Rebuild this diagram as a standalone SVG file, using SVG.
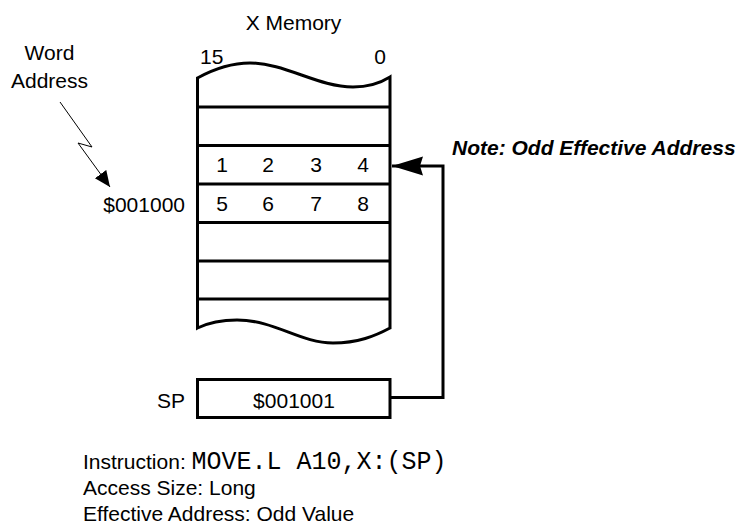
<svg xmlns="http://www.w3.org/2000/svg" width="739" height="525" viewBox="0 0 739 525">
<style>
text{font-family:"Liberation Sans",Arial,Helvetica,sans-serif;font-size:21px;fill:#000}
.mid{text-anchor:middle}
.end{text-anchor:end}
.mono{font-family:"Liberation Mono","Courier New",monospace;font-size:25px}
.note{font-weight:bold;font-style:italic}
.thick{fill:none;stroke:#000;stroke-width:3}
.thin{fill:none;stroke:#000;stroke-width:1}
</style>
<defs>
<marker id="bigArrow" markerUnits="userSpaceOnUse" markerWidth="34" markerHeight="22" refX="31" refY="9.5" orient="auto">
<path d="M0,0 L31,9.5 L0,19 L3,9.5 Z" fill="#000"/>
</marker>
<marker id="smallArrow" markerUnits="userSpaceOnUse" markerWidth="18" markerHeight="16" refX="16" refY="7" orient="auto">
<path d="M0,0 L16,7 L0,14 Z" fill="#000"/>
</marker>
</defs>
<rect width="739" height="525" fill="#fff"/>
<g id="x-memory">
<text class="mid" x="293.5" y="30">X Memory</text>
<text x="200" y="64">15</text>
<text class="mid" x="380" y="64">0</text>
<path class="thick" d="M197.5,78 C212,70 232,63 250,63 C285,63 318,87 353,87 C370,87 382,82 390,77 L390,328 C375,336 358,343 333,343 C300,343 275,320 237,320 C222,320 210,322 197.5,328 Z"/>
<g class="thick">
<line x1="197.5" y1="107" x2="390" y2="107"/>
<line x1="197.5" y1="145.5" x2="390" y2="145.5"/>
<line x1="197.5" y1="184" x2="390" y2="184"/>
<line x1="197.5" y1="222.5" x2="390" y2="222.5"/>
<line x1="197.5" y1="261" x2="390" y2="261"/>
<line x1="197.5" y1="299" x2="390" y2="299"/>
</g>
<text class="mid" x="222" y="172">1</text>
<text class="mid" x="268" y="172">2</text>
<text class="mid" x="316" y="172">3</text>
<text class="mid" x="363" y="172">4</text>
<text class="mid" x="222" y="211">5</text>
<text class="mid" x="268" y="211">6</text>
<text class="mid" x="316" y="211">7</text>
<text class="mid" x="363" y="211">8</text>
</g>
<g id="word-address-label">
<text class="mid" x="49.5" y="60">Word</text>
<text class="mid" x="49.5" y="88">Address</text>
</g>
<g id="address-label">
<text class="end" x="185" y="212">$001000</text>
</g>
<g id="note-label">
<text class="note" x="452" y="155">Note: Odd Effective Address</text>
</g>
<g id="sp-register">
<text class="end" x="185" y="408">SP</text>
<rect class="thick" x="197.5" y="379.5" width="192.5" height="38"/>
<text class="mid" x="294" y="408">$001001</text>
</g>
<g id="connectors">
<polyline class="thin" points="60,102 92,147 78,143 110,187" marker-end="url(#smallArrow)"/>
<polyline class="thick" points="390,397.5 443,397.5 443,166 392,166" marker-end="url(#bigArrow)"/>
</g>
<g id="instruction-text">
<text x="83" y="469">Instruction: <tspan class="mono">MOVE.L A10,X:(SP)</tspan></text>
<text x="83" y="495">Access Size: Long</text>
<text x="83" y="521">Effective Address: Odd Value</text>
</g>
</svg>
